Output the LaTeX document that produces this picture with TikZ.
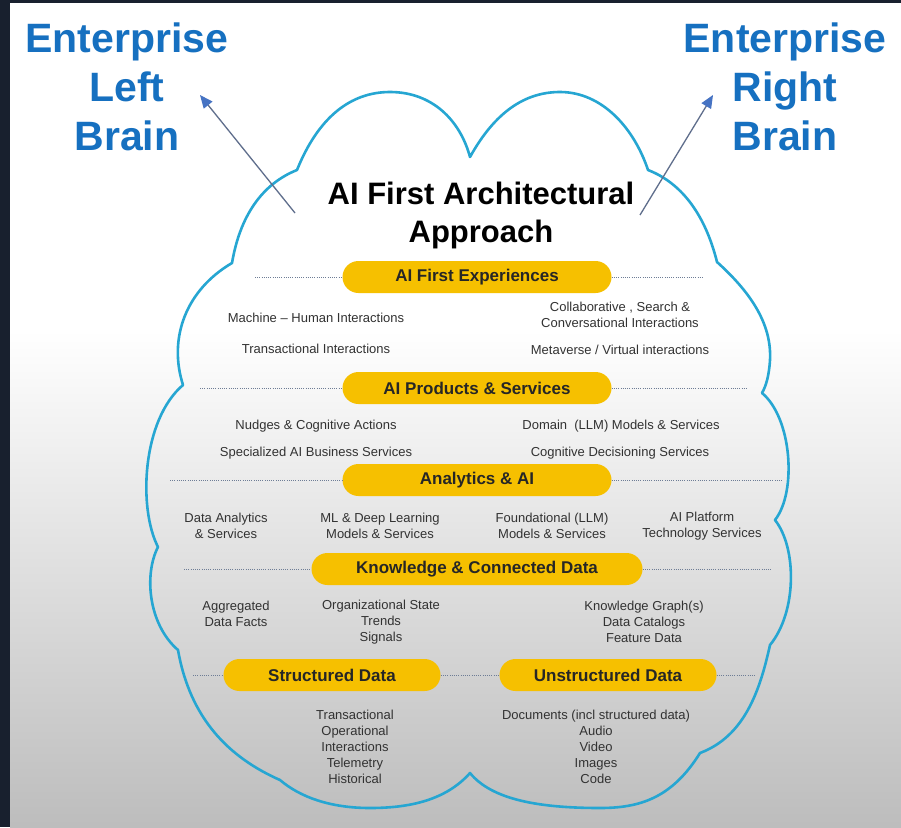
\documentclass[tikz,border=0pt]{standalone}
\usepackage{fontspec}
\setmainfont{Liberation Sans}
\usetikzlibrary{arrows.meta}

\definecolor{bgdark}{RGB}{24,32,46}
\definecolor{brainblue}{RGB}{22,112,192}
\definecolor{cloudline}{RGB}{38,166,210}
\definecolor{pillyellow}{RGB}{246,192,0}
\definecolor{dotgray}{RGB}{110,125,150}
\definecolor{arrowline}{RGB}{95,110,140}
\definecolor{arrowhead}{RGB}{70,115,195}
\definecolor{itemgray}{RGB}{50,50,50}

\tikzset{
	pill/.style={fill=pillyellow, rounded corners=16pt, minimum height=32pt, inner sep=0pt,
		font=\bfseries\fontsize{17}{20}\selectfont, text=black!85},
	item/.style={align=center, inner sep=0pt, font=\fontsize{13}{16}\selectfont, text=itemgray},
	brain/.style={align=center, font=\bfseries\fontsize{41}{49}\selectfont, text=brainblue},
	dotline/.style={dotgray, line width=1pt, dash pattern=on 1pt off 1.2pt},
	brainarrow/.style={arrowline, line width=1.3pt,
		-{Triangle[length=13pt,width=11pt,color=arrowhead]}},
}

\begin{document}
\begin{tikzpicture}[x=1pt,y=-1pt]
		\useasboundingbox (0,0) rectangle (901,827);
		\edef\pillW{269} % 上三层宽度
		\fill[bgdark] (0,0) rectangle (901,827); % 背景
		\fill[white] (10,3) rectangle (901,331);
		\shade[top color=white,bottom color=black!26] (10,330) rectangle (901,827);
		% 云
		\draw[cloudline, line width=2.6pt, line join=round]
			(470,157) .. controls (495,112) and (525,92) .. (560,92)
			.. controls (602,92) and (634,128) .. (648,170)
			.. controls (684,184) and (706,218) .. (717,262)
			.. controls (748,290) and (772,322) .. (770,360)
			.. controls (769,376) and (766,386) .. (762,393)
			.. controls (792,418) and (797,492) .. (775,520)
			.. controls (797,548) and (797,612) .. (770,645)
			.. controls (760,690) and (745,736) .. (700,753)
			.. controls (672,798) and (640,808) .. (600,808)
			.. controls (540,808) and (492,800) .. (470,773)
			.. controls (446,800) and (410,808) .. (370,808)
			.. controls (330,808) and (300,797) .. (280,780)
			.. controls (228,757) and (190,718) .. (178,650)
			.. controls (148,624) and (144,574) .. (158,547)
			.. controls (138,508) and (142,420) .. (183,385)
			.. controls (168,338) and (186,290) .. (232,263)
			.. controls (240,216) and (262,184) .. (297,170)
			.. controls (318,118) and (350,92) .. (390,92)
			.. controls (432,92) and (460,120) .. (470,157) -- cycle;
		% 左右脑
		\node[brain] (leftbrain) at (127,87) {Enterprise\\Left\\Brain};
		\node[brain] (rightbrain) at (785,87) {Enterprise\\Right\\Brain};
		\coordinate (lfoot) at (295,213);
		\coordinate (ltip) at (200,95);
		\coordinate (rfoot) at (640,215);
		\coordinate (rtip) at (713,95);
		\draw[brainarrow] (lfoot) -- (ltip);
		\draw[brainarrow] (rfoot) -- (rtip);
		\node[align=center, font=\bfseries\fontsize{31}{38}\selectfont] (title) at (481,215)
			{AI First Architectural\\Approach};
		% 各层
		\node[pill, minimum width=\pillW pt] (exp) at (477,277) {AI First Experiences};
		\node[pill, minimum width=\pillW pt] (prod) at (477,388) {AI Products \& Services};
		\node[pill, minimum width=\pillW pt] (ana) at (477,480) {Analytics \& AI};
		\node[pill, minimum width=331pt] (know) at (477,569) {Knowledge \& Connected Data};
		\node[pill, minimum width=217pt] (struct) at (332,675) {Structured Data};
		\node[pill, minimum width=217pt] (unstruct) at (608,675) {Unstructured Data};
		\coordinate (expL) at (255,277);
		\coordinate (expR) at (702,277);
		\coordinate (prodL) at (200,388);
		\coordinate (prodR) at (748,388);
		\coordinate (anaL) at (170,480);
		\coordinate (anaR) at (782,480);
		\coordinate (knowL) at (184,569);
		\coordinate (knowR) at (772,569);
		\coordinate (structL) at (193,675);
		\coordinate (unstructR) at (756,675);
		\draw[dotline] (expL) -- (exp);
		\draw[dotline] (exp) -- (expR);
		\draw[dotline] (prodL) -- (prod);
		\draw[dotline] (prod) -- (prodR);
		\draw[dotline] (anaL) -- (ana);
		\draw[dotline] (ana) -- (anaR);
		\draw[dotline] (knowL) -- (know);
		\draw[dotline] (know) -- (knowR);
		\draw[dotline] (structL) -- (struct);
		\draw[dotline] (struct) -- (unstruct);
		\draw[dotline] (unstruct) -- (unstructR);
		% 条目
		\node[item] (mhi) at (316,318) {Machine – Human Interactions};
		\node[item] (ti) at (316,349) {Transactional Interactions};
		\node[item] (csc) at (620,315) {Collaborative , Search \&\\Conversational Interactions};
		\node[item] (mvi) at (620,350) {Metaverse / Virtual interactions};
		\node[item] (nca) at (316,426) {Nudges \& Cognitive Actions};
		\node[item] (sabs) at (316,453) {Specialized AI Business Services};
		\node[item] (dlms) at (621,426) {Domain\ \ (LLM) Models \& Services};
		\node[item] (cds) at (620,453) {Cognitive Decisioning Services};
		\node[item] (das) at (226,526) {Data Analytics\\\& Services};
		\node[item] (mldl) at (380,526) {ML \& Deep Learning\\Models \& Services};
		\node[item] (fllm) at (552,526) {Foundational (LLM)\\Models \& Services};
		\node[item] (aipt) at (702,526) {AI Platform\\Technology Services};
		\node[item] (adf) at (236,614) {Aggregated\\Data Facts};
		\node[item] (ost) at (381,622) {Organizational State\\Trends\\Signals};
		\node[item] (kgd) at (644,622) {Knowledge Graph(s)\\Data Catalogs\\Feature Data};
		\node[item] (sdl) at (355,747) {Transactional\\Operational\\Interactions\\Telemetry\\Historical};
		\node[item] (udl) at (596,747) {Documents (incl structured data)\\Audio\\Video\\Images\\Code};
	\end{tikzpicture}
\end{document}
